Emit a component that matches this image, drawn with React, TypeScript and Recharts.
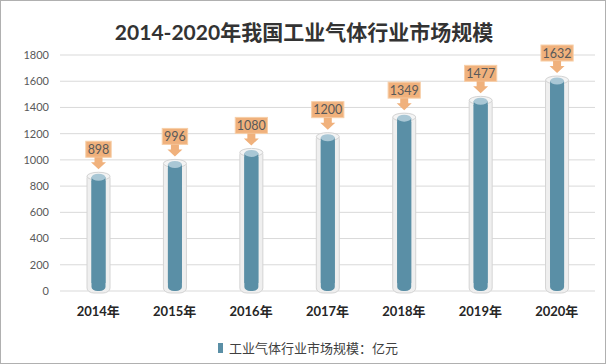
import React from "react";
import { BarChart, Bar, XAxis, YAxis, CartesianGrid, LabelList, Legend } from "recharts";

const years = ["2014年", "2015年", "2016年", "2017年", "2018年", "2019年", "2020年"];
const marketSize = [898, 996, 1080, 1200, 1349, 1477, 1632];
const yTicks = [0, 200, 400, 600, 800, 1000, 1200, 1400, 1600, 1800];
const title = "2014-2020年我国工业气体行业市场规模";
const seriesName = "工业气体行业市场规模：亿元";

const data = years.map((year, i) => ({ year, value: marketSize[i] }));

const FONT = "Lato, 'Noto Sans CJK SC', sans-serif";
const DARK = "#5a8fa6";
const TOP = "#a9c7d5";

const Cylinder = (props: any) => {
  const { x, y, width, height } = props;
  const cx = x + width / 2;
  const ow = 23;
  const iw = 14;
  const top = y + 4;
  const h = height - 4;
  return (
    <g>
      <rect x={cx - ow / 2} y={top - 4} width={ow} height={h + 6} rx={7} ry={5} fill="#efefef" stroke="#d4d4d4" strokeWidth={1} />
      <ellipse cx={cx} cy={top - 1} rx={ow / 2} ry={4} fill="#f4f4f4" stroke="#d4d4d4" strokeWidth={1} />
      <rect x={cx - iw / 2} y={top} width={iw} height={h} rx={6} ry={4} fill={DARK} />
      <rect x={cx - iw / 2} y={top} width={iw} height={Math.max(0, h - 8)} fill={DARK} />
      <ellipse cx={cx} cy={top} rx={iw / 2} ry={3.5} fill={TOP} />
    </g>
  );
};

const Callout = (props: any) => {
  const { x, y, width, value } = props;
  const cx = x + width / 2;
  const text = String(value);
  const bw = text.length * 6.8 + 5;
  const bh = 16;
  const tip = y - 4;
  const boxBottom = tip - 12;
  const boxTop = boxBottom - bh;
  return (
    <g>
      <rect x={cx - bw / 2} y={boxTop} width={bw} height={bh} fill="#f0b17c" stroke="#f7cfa8" strokeWidth={1} />
      <polygon
        points={`${cx - 4},${boxBottom} ${cx + 4},${boxBottom} ${cx + 4},${boxBottom + 5} ${cx + 7.5},${boxBottom + 5} ${cx},${tip} ${cx - 7.5},${boxBottom + 5} ${cx - 4},${boxBottom + 5}`}
        fill="#f0b17c"
      />
      <text x={cx} y={boxTop + bh / 2 + 4.5} textAnchor="middle" fontSize={12.5} fill="#595959" fontFamily={FONT}>
        {text}
      </text>
    </g>
  );
};

const LegendContent = () => (
  <div style={{ display: "flex", justifyContent: "center", alignItems: "center", height: 33, fontFamily: FONT, fontSize: 13, color: "#404040", paddingLeft: 10 }}>
    <span style={{ display: "inline-block", width: 5, height: 10, background: DARK, marginRight: 6 }} />
    <span>{seriesName}</span>
  </div>
);

export default function App() {
  return (
    <div style={{ position: "absolute", left: 0, top: 0, width: 606, height: 364, boxSizing: "border-box", border: "1px solid #b0b0b0", background: "#fff", overflow: "hidden" }}>
      <div style={{ position: "absolute", left: 0, top: 15, width: 606, textAlign: "center", fontFamily: FONT, fontWeight: "bold", fontSize: 21, color: "#333333" }}>
        {title}
      </div>
      <div style={{ position: "absolute", left: -1, top: -1 }}>
        <BarChart width={606} height={364} data={data} margin={{ top: 55, right: 11, bottom: 0, left: 0 }}>
          <CartesianGrid vertical={false} stroke="#d9d9d9" />
          <XAxis dataKey="year" axisLine={false} tickLine={false} tickSize={0} tickMargin={16} height={40}
            tick={{ fontSize: 13, fontWeight: "bold", fill: "#262626", fontFamily: FONT }} interval={0} />
          <YAxis domain={[0, 1800]} ticks={yTicks} axisLine={false} tickLine={false} tickSize={0} tickMargin={11} width={60}
            tick={{ fontSize: 11, fill: "#595959", fontFamily: FONT }} />
          <Legend verticalAlign="bottom" height={33} wrapperStyle={{ left: 0, width: 606 }} content={<LegendContent />} />
          <Bar dataKey="value" name={seriesName} barSize={23} shape={<Cylinder />} isAnimationActive={false}>
            <LabelList dataKey="value" content={<Callout />} />
          </Bar>
        </BarChart>
      </div>
    </div>
  );
}
